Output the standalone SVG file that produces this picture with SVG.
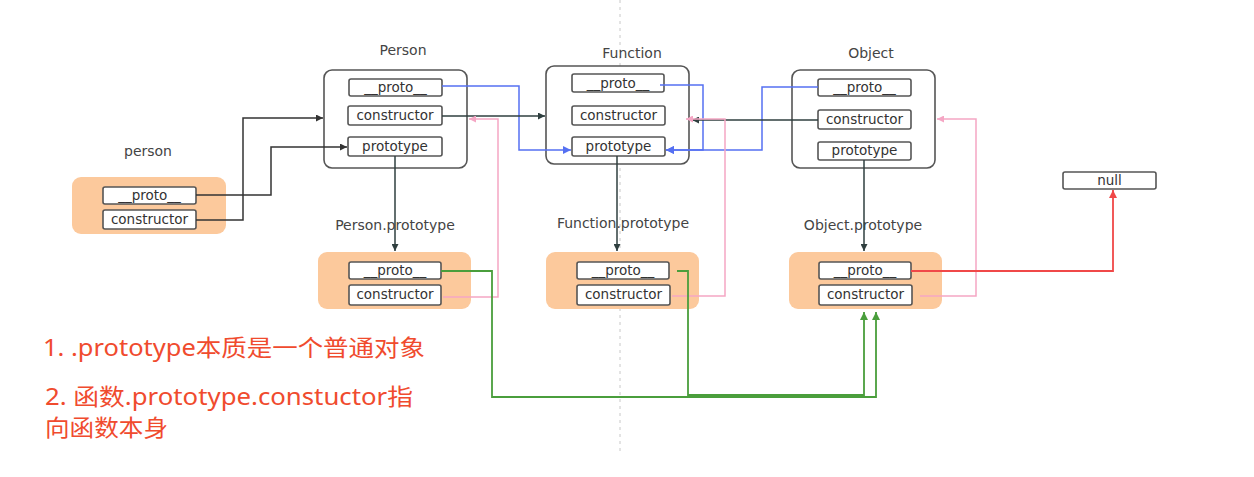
<svg xmlns="http://www.w3.org/2000/svg" width="1254" height="477" viewBox="0 0 1254 477">
<style>
.bg{fill:#ffffff}
.outer{fill:#ffffff;stroke:#555;stroke-width:1.6}
.orange{fill:#fcc99c}
.box{fill:#ffffff;stroke:#555;stroke-width:1.6}
.lbl{font-family:"DejaVu Sans","Liberation Sans",sans-serif;font-size:13.5px;fill:#333;text-anchor:middle}
.title{font-family:"DejaVu Sans","Liberation Sans",sans-serif;font-size:14px;fill:#444;text-anchor:middle}
.note{font-family:"Noto Sans","Noto Sans CJK SC",sans-serif;font-size:23px;fill:#f04b2e}
.c{fill:none;stroke-width:1.5}
.dark{stroke:#2f3f3f}
.blk{stroke:#333}
.blue{stroke:#5570f2}
.pink{stroke:#f5a6c4}
.green{stroke:#4a9e3c;stroke-width:1.8}
.red{stroke:#f04848;stroke-width:1.8}
</style>
<defs>
<marker id="aDark" viewBox="0 0 10 10" refX="10" refY="5" markerWidth="7" markerHeight="7" markerUnits="userSpaceOnUse" orient="auto"><path d="M0,0L10,5L0,10z" fill="#2f3f3f"/></marker>
<marker id="aBlk" viewBox="0 0 10 10" refX="10" refY="5" markerWidth="7" markerHeight="7" markerUnits="userSpaceOnUse" orient="auto"><path d="M0,0L10,5L0,10z" fill="#333"/></marker>
<marker id="aBlue" viewBox="0 0 10 10" refX="10" refY="5" markerWidth="8" markerHeight="8" markerUnits="userSpaceOnUse" orient="auto"><path d="M0,0L10,5L0,10z" fill="#5570f2"/></marker>
<marker id="aPink" viewBox="0 0 10 10" refX="10" refY="5" markerWidth="7" markerHeight="7" markerUnits="userSpaceOnUse" orient="auto"><path d="M0,0L10,5L0,10z" fill="#f5a6c4"/></marker>
<marker id="aGreen" viewBox="0 0 10 10" refX="10" refY="5" markerWidth="8" markerHeight="8" markerUnits="userSpaceOnUse" orient="auto"><path d="M0,0L10,5L0,10z" fill="#4a9e3c"/></marker>
<marker id="aRed" viewBox="0 0 10 10" refX="10" refY="5" markerWidth="8" markerHeight="8" markerUnits="userSpaceOnUse" orient="auto"><path d="M0,0L10,5L0,10z" fill="#f04848"/></marker>
</defs>
<rect class="bg" x="0" y="0" width="1254" height="477"/>
<line x1="620" y1="0" x2="620" y2="455" stroke="#c8c8c8" stroke-width="1" stroke-dasharray="3 4"/>

<g id="person">
<text class="title" x="148" y="156">person</text>
<rect class="orange" x="72" y="177" width="154" height="57" rx="9"/>
<rect class="box" x="103" y="187" width="93" height="17" rx="2"/>
<text class="lbl" x="149.5" y="200">__proto__</text>
<rect class="box" x="103" y="210" width="93" height="19" rx="2"/>
<text class="lbl" x="149.5" y="224">constructor</text>
</g>

<g id="Person">
<text class="title" x="403" y="55">Person</text>
<rect class="outer" x="324" y="70" width="143" height="98" rx="8"/>
<rect class="box" x="349" y="79" width="93" height="17" rx="2"/>
<text class="lbl" x="395.5" y="92">__proto__</text>
<rect class="box" x="348" y="106" width="94" height="19" rx="2"/>
<text class="lbl" x="395" y="120">constructor</text>
<rect class="box" x="348" y="137" width="94" height="19" rx="2"/>
<text class="lbl" x="395" y="151">prototype</text>
</g>

<g id="PersonPrototype">
<text class="title" x="395" y="230">Person.prototype</text>
<rect class="orange" x="318" y="252" width="153" height="57" rx="9"/>
<rect class="box" x="349" y="262" width="92" height="17" rx="2"/>
<text class="lbl" x="395" y="275">__proto__</text>
<rect class="box" x="349" y="285" width="92" height="20" rx="2"/>
<text class="lbl" x="395" y="299">constructor</text>
</g>

<g id="Function">
<text class="title" x="632" y="58">Function</text>
<rect class="outer" x="546" y="66" width="143" height="98" rx="8"/>
<rect class="box" x="572" y="74" width="92" height="18" rx="2"/>
<text class="lbl" x="618" y="88">__proto__</text>
<rect class="box" x="572" y="106" width="93" height="19" rx="2"/>
<text class="lbl" x="618.5" y="120">constructor</text>
<rect class="box" x="572" y="137" width="93" height="19" rx="2"/>
<text class="lbl" x="618.5" y="151">prototype</text>
</g>

<g id="FunctionPrototype">
<text class="title" x="623" y="228">Function.prototype</text>
<rect class="orange" x="546" y="252" width="153" height="57" rx="9"/>
<rect class="box" x="577" y="262" width="92" height="17" rx="2"/>
<text class="lbl" x="623" y="275">__proto__</text>
<rect class="box" x="577" y="285" width="93" height="20" rx="2"/>
<text class="lbl" x="623.5" y="299">constructor</text>
</g>

<g id="Object">
<text class="title" x="871" y="58">Object</text>
<rect class="outer" x="792" y="70" width="143" height="98" rx="8"/>
<rect class="box" x="818" y="79" width="93" height="17" rx="2"/>
<text class="lbl" x="864.5" y="92">__proto__</text>
<rect class="box" x="818" y="110" width="93" height="19" rx="2"/>
<text class="lbl" x="864.5" y="124">constructor</text>
<rect class="box" x="818" y="142" width="93" height="18" rx="2"/>
<text class="lbl" x="864.5" y="155">prototype</text>
</g>

<g id="ObjectPrototype">
<text class="title" x="863" y="230">Object.prototype</text>
<rect class="orange" x="789" y="252" width="153" height="57" rx="9"/>
<rect class="box" x="819" y="262" width="92" height="17" rx="2"/>
<text class="lbl" x="865" y="275">__proto__</text>
<rect class="box" x="819" y="285" width="93" height="20" rx="2"/>
<text class="lbl" x="865.5" y="299">constructor</text>
</g>

<g id="null">
<rect class="box" x="1063" y="172" width="93" height="17" rx="2"/>
<text class="lbl" x="1109.5" y="185">null</text>
</g>

<g id="connectors">
<path class="c blk" d="M196,195H271V147H347" marker-end="url(#aBlk)"/>
<path class="c blk" d="M196,220H243V118H323" marker-end="url(#aBlk)"/>
<path class="c dark" d="M395,156V251" marker-end="url(#aDark)"/>
<path class="c blue" d="M442,86H519V150H571" marker-end="url(#aBlue)"/>
<path class="c dark" d="M442,116H545" marker-end="url(#aDark)"/>
<path class="c pink" d="M443,297H498V119H469" marker-end="url(#aPink)"/>
<path class="c green" d="M441,271H492V397H876V312" marker-end="url(#aGreen)"/>
<path class="c blue" d="M660,85H703V150H666" marker-end="url(#aBlue)"/>
<path class="c blue" d="M818,87H762V150H666" marker-end="url(#aBlue)"/>
<path class="c dark" d="M818,120H692" marker-end="url(#aDark)"/>
<path class="c pink" d="M672,296H725V119H686" marker-end="url(#aPink)"/>
<path class="c dark" d="M617,156V251" marker-end="url(#aDark)"/>
<path class="c green" d="M677,271H688V395H864V312" marker-end="url(#aGreen)"/>
<path class="c dark" d="M864,160V251" marker-end="url(#aDark)"/>
<path class="c pink" d="M920,296H976V119H937" marker-end="url(#aPink)"/>
<path class="c red" d="M911,271H1113V190" marker-end="url(#aRed)"/>
</g>

<g id="notes">
<text class="note" x="43" y="356" textLength="382" lengthAdjust="spacingAndGlyphs">1. .prototype本质是一个普通对象</text>
<text class="note" x="45" y="405" textLength="368" lengthAdjust="spacingAndGlyphs">2. 函数.prototype.constuctor指</text>
<text class="note" x="45" y="436" textLength="123" lengthAdjust="spacingAndGlyphs">向函数本身</text>
</g>
</svg>
